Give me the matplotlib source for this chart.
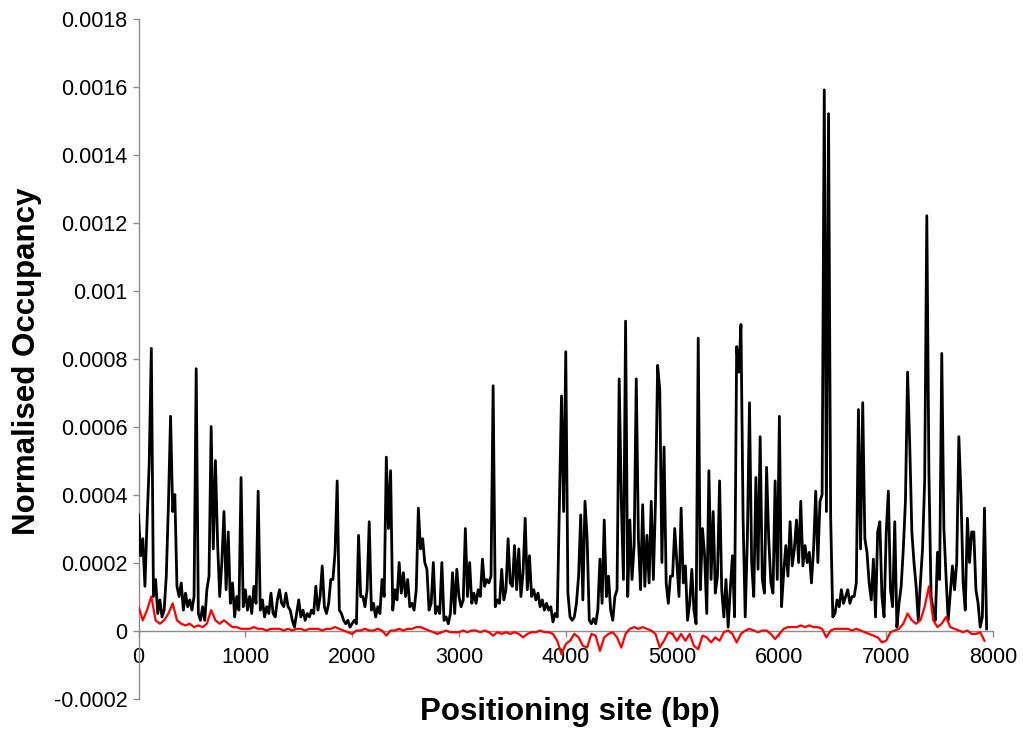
"""Plots normalised nucleosome occupancy along the positioning sites.

"""
import numpy as np
import matplotlib
matplotlib.use("Agg")
import matplotlib.pyplot as plt

plt.rcParams["font.family"] = ["Liberation Sans", "DejaVu Sans"]

# occupancy values are given in units of 1e-4
OCC_SCALE = 1e-4

# black trace, one value every 20 bp starting at 0
black_step = 20
black_occ = [
    # 0 - 480
    3.4, 2.2, 2.7, 1.3, 3.2, 4.9, 8.3, 1.0, 1.5, 0.5, 0.9, 0.4, 0.6,
    1.6, 3.7, 6.3, 3.5, 4.0, 1.3, 1.0, 1.4, 0.6, 1.1, 0.7, 0.9,
    # 500 - 980
    0.6, 1.0, 7.7, 0.5, 0.3, 0.7, 0.3, 1.2, 1.6, 6.0, 2.4, 5.0, 2.6,
    1.0, 2.0, 3.5, 1.2, 2.9, 0.8, 1.4, 0.4, 1.0, 0.6, 4.5, 0.7,
    # 1000 - 1480
    1.2, 0.6, 1.0, 0.5, 1.3, 0.8, 4.1, 0.6, 0.9, 0.4, 0.7, 0.5, 1.1,
    0.5, 0.4, 0.9, 1.2, 0.8, 0.7, 1.1, 0.7, 0.6, 0.3, 0.1, 0.5,
    # 1500 - 1980
    0.9, 0.4, 0.6, 0.3, 0.5, 0.4, 0.6, 0.5, 1.3, 0.6, 1.0, 1.9, 0.7,
    0.5, 0.8, 1.5, 1.5, 2.3, 4.4, 0.6, 0.5, 0.3, 0.2, 0.3, 0.1,
    # 2000 - 2480
    0.2, 0.3, 0.2, 2.8, 1.0, 1.0, 0.7, 1.2, 3.2, 0.6, 0.8, 0.4, 0.7,
    0.5, 1.5, 1.0, 5.1, 3.0, 4.7, 0.6, 1.2, 0.9, 2.0, 1.1, 1.7,
    # 2500 - 2980
    1.0, 1.5, 0.7, 0.8, 0.6, 1.2, 3.6, 2.4, 2.7, 2.0, 1.8, 0.6, 0.8,
    2.0, 0.5, 0.7, 0.5, 2.0, 0.3, 0.4, 0.2, 0.5, 1.7, 0.5, 1.8,
    # 3000 - 3480
    1.0, 0.7, 0.9, 3.0, 1.0, 2.0, 0.8, 1.1, 0.8, 1.2, 1.0, 2.1, 1.3,
    1.5, 1.4, 1.6, 7.2, 0.7, 0.9, 0.8, 1.8, 0.9, 1.2, 2.7, 1.4,
    # 3500 - 3980
    1.3, 2.5, 1.2, 2.4, 1.0, 1.7, 3.3, 1.2, 2.2, 1.0, 1.2, 0.9, 1.1,
    0.7, 0.9, 0.6, 0.8, 0.6, 0.7, 0.25, 0.5, 0.4, 3.6, 6.9, 3.5,
    # 4000 - 4480
    8.2, 1.1, 0.4, 0.3, 0.4, 0.8, 1.6, 3.4, 0.9, 3.8, 2.7, 0.3, 0.2,
    0.35, 0.2, 0.6, 2.1, 0.8, 3.25, 1.0, 1.6, 0.6, 0.3, 1.0, 1.2,
    # 4500 - 4980
    7.4, 3.8, 1.5, 9.1, 1.0, 3.25, 1.5, 2.5, 7.4, 2.7, 1.2, 3.7, 1.3,
    2.8, 1.4, 3.8, 1.5, 3.8, 7.8, 7.1, 2.0, 5.4, 1.4, 0.8, 1.6,
    # 5000 - 5480
    1.6, 3.0, 2.0, 1.0, 3.6, 1.4, 1.9, 0.3, 0.8, 1.8, 0.6, 0.2, 8.6,
    1.2, 3.0, 2.2, 0.5, 4.7, 1.5, 3.5, 1.1, 1.6, 4.4, 1.2, 0.4,
    # 5500 - 5980
    1.5, 0.1, 1.2, 2.2, 0.4, 8.35, 7.6, 9.0, 3.3, 0.4, 2.7, 6.7, 2.0,
    1.0, 4.5, 1.8, 5.7, 1.5, 1.1, 4.8, 2.7, 1.4, 1.1, 4.4, 1.5,
    # 6000 - 6480
    6.3, 0.7, 1.7, 2.5, 1.6, 3.2, 1.9, 2.4, 3.25, 2.0, 3.8, 1.9, 2.5,
    2.0, 2.3, 1.4, 2.4, 4.1, 2.0, 3.8, 4.0, 15.9, 3.5, 15.2, 3.3,
    # 6500 - 6980
    0.4, 0.5, 0.9, 0.7, 1.2, 0.8, 1.0, 1.2, 0.8, 1.0, 1.0, 1.4, 6.5,
    2.4, 6.7, 2.7, 2.3, 1.4, 0.9, 2.1, 0.4, 2.9, 3.2, 1.0, 0.4,
    # 7000 - 7480
    2.9, 4.1, 1.2, 0.7, 3.2, 0.1, 0.8, 1.3, 2.4, 3.8, 7.6, 5.5, 2.9,
    2.0, 1.3, 0.3, 1.4, 2.4, 4.4, 12.2, 4.6, 1.0, 0.6, 0.3, 2.3,
    # 7500 - 7940
    1.5, 8.15, 3.0, 1.6, 0.3, 1.1, 1.9, 1.2, 2.0, 5.7, 4.0, 1.4, 0.6,
    3.3, 2.0, 2.9, 2.9, 1.2, 0.8, 0.1, 0.4, 3.6, 0.05,
]

# red trace, one value every 40 bp starting at 0
red_step = 40
red_occ = [
    # 0 - 960
    0.7, 0.3, 0.6, 1.0, 0.3, 0.2, 0.3, 0.5, 0.8, 0.3, 0.2, 0.15, 0.2,
    0.1, 0.15, 0.1, 0.2, 0.6, 0.3, 0.2, 0.3, 0.2, 0.1, 0.1, 0.05,
    # 1000 - 1960
    0.05, 0.05, 0.1, 0.05, 0.05, 0.0, 0.05, 0.05, 0.05, 0.0, 0.05, 0.0,
    0.05, 0.05, 0.0, 0.05, 0.05, 0.05, 0.0, 0.05, 0.05, 0.1, 0.05, 0.0,
    -0.05,
    # 2000 - 2960
    -0.1, 0.0, 0.0, 0.05, 0.0, 0.0, 0.05, 0.0, -0.15, 0.0, 0.0, 0.05,
    0.0, 0.05, 0.05, 0.1, 0.1, 0.05, 0.0, -0.05, -0.1, -0.05, 0.0, -0.05,
    -0.05,
    # 3000 - 3960
    -0.05, 0.0, -0.05, 0.0, 0.0, -0.05, 0.0, -0.05, -0.15, -0.05, -0.1,
    -0.05, -0.1, -0.05, -0.1, -0.2, -0.1, -0.05, -0.05, 0.0, -0.05,
    -0.05, -0.1, -0.3, -0.7,
    # 4000 - 4960
    -0.4, -0.3, -0.1, -0.2, -0.45, -0.5, -0.1, -0.15, -0.6, -0.2, -0.1,
    -0.05, -0.2, -0.5, -0.1, 0.05, 0.1, 0.05, 0.1, 0.05, 0.0, -0.1,
    -0.5, -0.3, -0.05,
    # 5000 - 5960
    -0.1, -0.3, -0.1, -0.3, -0.1, -0.45, -0.55, -0.15, -0.2, -0.35,
    -0.2, -0.3, -0.05, 0.0, -0.1, -0.35, -0.1, 0.0, 0.05, 0.0, -0.05,
    0.0, 0.0, -0.1, -0.25,
    # 6000 - 6960
    -0.1, 0.05, 0.1, 0.1, 0.1, 0.15, 0.1, 0.15, 0.1, 0.1, 0.05, -0.2,
    0.0, 0.05, 0.05, 0.05, 0.05, 0.0, 0.05, 0.0, -0.05, -0.1, -0.15,
    -0.2, -0.35,
    # 7000 - 7920
    -0.3, -0.05, 0.0, 0.05, 0.2, 0.5, 0.3, 0.2, 0.3, 0.7, 1.3, 0.3, 0.1,
    0.2, 0.4, 0.1, 0.05, 0.0, -0.05, 0.0, -0.1, -0.1, -0.05, -0.3,
]

x_ticks = [0, 1000, 2000, 3000, 4000, 5000, 6000, 7000, 8000]
y_ticks = [-0.0002, 0, 0.0002, 0.0004, 0.0006, 0.0008, 0.001,
           0.0012, 0.0014, 0.0016, 0.0018]
y_tick_labels = ["-0.0002", "0", "0.0002", "0.0004", "0.0006", "0.0008",
                 "0.001", "0.0012", "0.0014", "0.0016", "0.0018"]


def trace(values, step):
    """Returns positions (bp) and occupancies for a trace sampled every
    `step` bp."""
    occ = np.asarray(values) * OCC_SCALE
    pos = np.arange(len(occ)) * step
    return pos, occ


def style_axes(ax):
    """Excel-like axes: y axis on the left, x axis running through zero."""
    axis_grey = "#8c8c8c"
    for side in ("top", "right"):
        ax.spines[side].set_visible(False)
    ax.spines["bottom"].set_position(("data", 0))
    for side in ("left", "bottom"):
        ax.spines[side].set_color(axis_grey)
        ax.spines[side].set_linewidth(1.0)

    ax.set_xlim(0, 8000)
    ax.set_ylim(-0.0002, 0.0018)
    ax.set_xticks(x_ticks)
    ax.set_xticklabels([str(t) for t in x_ticks])
    ax.set_yticks(y_ticks)
    ax.set_yticklabels(y_tick_labels)
    ax.tick_params(axis="both", direction="out", color=axis_grey,
                   length=4, width=1.0, labelsize=15.5, labelcolor="black")
    ax.tick_params(axis="x", pad=8)
    ax.tick_params(axis="y", pad=4)


fig = plt.figure(figsize=(10.23, 7.29), dpi=100)
ax = fig.add_axes([0.1354, 0.0418, 0.8353, 0.9328])

pos, occ = trace(black_occ, black_step)
ax.plot(pos, occ, color="black", lw=2.0, zorder=3)
pos, occ = trace(red_occ, red_step)
ax.plot(pos, occ, color="#ff0000", lw=1.6, zorder=4)

style_axes(ax)

fig.text(0.026, 0.505, "Normalised Occupancy", rotation=90, ha="center",
         va="center", fontsize=22.5, fontweight="bold")
fig.text(0.557, 0.023, "Positioning site (bp)", ha="center", va="center",
         fontsize=22.5, fontweight="bold")

fig.savefig("out.png", dpi=100)
